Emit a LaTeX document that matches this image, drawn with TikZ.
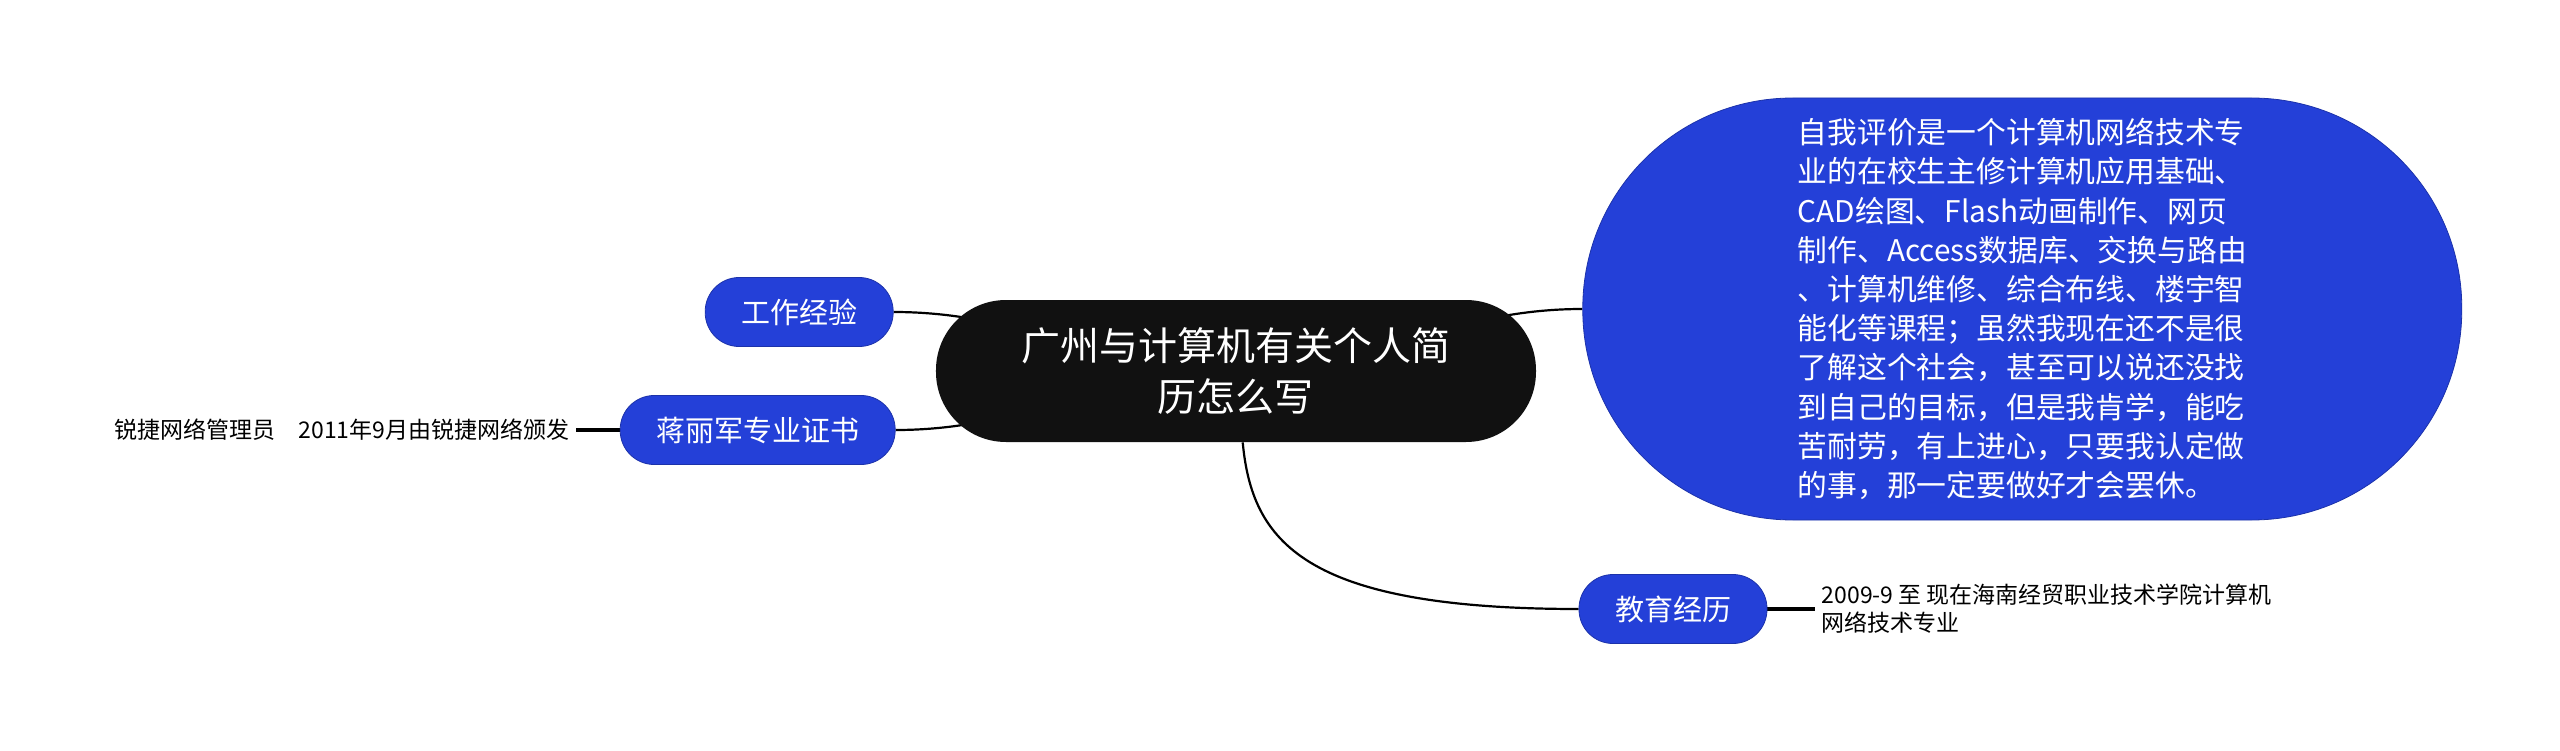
\documentclass[tikz,border=0pt]{standalone}
\usepackage{fontspec}
\setmainfont{Noto Sans CJK SC}
\usepackage{tikz}
\usetikzlibrary{positioning,backgrounds}
\definecolor{branchblue}{HTML}{2440D8}
\definecolor{branchedge}{HTML}{1C32AA}
\definecolor{rootblack}{HTML}{111111}

\begin{document}
\begin{tikzpicture}[
    rootbox/.style={fill=rootblack, text=white, rounded corners=35pt, minimum width=300pt, minimum height=71pt, align=center, font=\fontsize{19.5}{25.5}\selectfont},
    branchbox/.style={draw=branchedge, line width=0.4pt, fill=branchblue, text=white, rounded corners=17pt, minimum height=34.5pt, inner xsep=18pt, font=\fontsize{14.5}{17.8}\selectfont},
    leaftext/.style={inner sep=3pt, align=left, font=\fontsize{11.5}{14}\selectfont},
    link/.style={line width=1.1pt},
    leaflink/.style={line width=1.7pt}
]
            \useasboundingbox (-618pt,-189.5pt) rectangle (662pt,185.5pt);

            \node[rootbox] (title) at (0,0) {广州与计算机有关个人简\\历怎么写};
            \node[branchbox, left=21pt of title, yshift=29.5pt] (work) {工作经验};
            \node[branchbox, left=20pt of title, yshift=-29.5pt] (cert) {蒋丽军专业证书};
            \node[leaftext, left=22pt of cert] (certnote) {锐捷网络管理员\quad 2011年9月由锐捷网络颁发};
            \node[branchbox, right=23pt of title, yshift=31pt, minimum width=439.5pt, minimum height=211pt, rounded corners=105pt, align=left, font=\fontsize{14.9}{19.6}\selectfont] (eval) {自我评价是一个计算机网络技术专\\业的在校生主修计算机应用基础、\\CAD绘图、Flash动画制作、网页\\制作、Access数据库、交换与路由\\、计算机维修、综合布线、楼宇智\\能化等课程；虽然我现在还不是很\\了解这个社会，甚至可以说还没找\\到自己的目标，但是我肯学，能吃\\苦耐劳，有上进心，只要我认定做\\的事，那一定要做好才会罢休。};
            \node[branchbox] (edu) at (218.5pt,-119pt) {教育经历};
            \node[leaftext, right=24pt of edu] (edunote) {2009-9 至 现在海南经贸职业技术学院计算机\\网络技术专业};

            % connectors behind the boxes
            \begin{scope}[on background layer]
                \draw[link] (title.center) to[out=180, in=0] (work.east);
                \draw[link] (title.center) to[out=180, in=0] (cert.east);
                \draw[link] (title.center) to[out=0, in=180] (eval.west);
                \draw[link] (title) .. controls +(8pt,-85pt) and +(-138pt,0) .. (edu.west);
                \draw[leaflink] (cert) -- (certnote);
                \draw[leaflink] (edu) -- (edunote);
            \end{scope}
        \end{tikzpicture}
\end{document}
